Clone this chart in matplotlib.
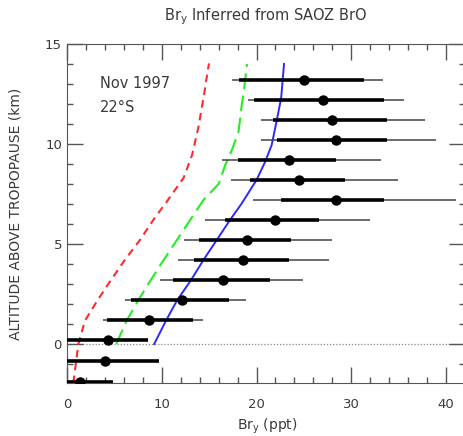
import numpy as np
import matplotlib
matplotlib.use("Agg")
import matplotlib.pyplot as plt
from matplotlib.ticker import MultipleLocator

# SAOZ inferred Bry profile (Nov 1997, 22S)
alt = [13.2, 12.2, 11.2, 10.2, 9.2, 8.2, 7.2, 6.2, 5.2, 4.2, 3.2, 2.2, 1.2, 0.2, -0.85, -1.88]
bry = [25.0, 27.0, 28.0, 28.4, 23.4, 24.5, 28.4, 21.9, 19.0, 18.6, 16.5, 12.1, 8.7, 4.35, 4.0, 1.4]
thick_lo = [18.2, 19.7, 21.7, 22.2, 18.0, 19.3, 22.6, 16.7, 13.9, 13.4, 11.2, 6.8, 4.2, 0.0, 0.0, 0.0]
thick_hi = [31.3, 33.4, 33.8, 33.8, 28.4, 29.3, 33.5, 26.6, 23.6, 23.4, 21.4, 17.1, 13.3, 8.5, 9.7, 4.9]
thin_lo = [17.4, 19.1, 20.5, 20.5, 16.4, 17.3, 19.6, 14.6, 12.3, 11.7, 9.8, 6.1, 3.8, 0.0, 0.0, 0.0]
thin_hi = [33.3, 35.6, 37.8, 38.9, 33.1, 34.9, 41.0, 32.0, 28.0, 27.7, 24.9, 18.9, 14.3, 8.5, 9.7, 4.9]

# model curves
red_alt = [-1.95, 0.0, 1.17, 2.17, 3.17, 4.2, 5.2, 6.2, 7.1, 8.3, 9.45, 10.8, 12.3, 14.03]
red_x = [0.67, 1.2, 1.9, 3.2, 4.6, 6.1, 7.7, 9.1, 10.5, 12.3, 13.2, 13.85, 14.4, 14.98]
green_alt = [0.0, 1.17, 2.17, 3.17, 4.2, 5.2, 6.2, 7.2, 8.0, 8.95, 9.7, 10.6, 11.8, 12.8, 14.0]
green_x = [5.2, 6.3, 7.5, 8.8, 10.2, 11.6, 13.0, 14.4, 16.0, 16.7, 17.4, 18.1, 18.4, 18.7, 19.0]
blue_alt = [0.0, 1.17, 2.17, 3.17, 4.2, 5.2, 6.2, 7.0, 8.2, 9.1, 9.95, 11.1, 12.3, 14.0]
blue_x = [9.2, 10.45, 11.6, 13.05, 14.4, 15.8, 17.2, 18.4, 20.0, 20.9, 21.6, 22.1, 22.6, 22.9]

TXT = "#3a3a3a"
plt.rcParams["font.family"] = "DejaVu Sans"

fig = plt.figure(figsize=(4.64, 4.36), dpi=100)
ax = fig.add_axes([67 / 464, 53 / 436, 398 / 464, 339 / 436])

ax.axhline(0, color="#888888", lw=0.9, ls=(0, (1, 1.5)), zorder=1)

ax.plot(red_x, red_alt, color="#ff2a2a", lw=1.5, dashes=(3.6, 2.6), zorder=2)
ax.plot(green_x, green_alt, color="#22ee22", lw=1.5, dashes=(7.5, 3.2), zorder=2)
ax.plot(blue_x, blue_alt, color="#2a2aff", lw=1.4, zorder=2)

ax.hlines(alt, thin_lo, thin_hi, color="#444444", lw=1.1, zorder=3)
ax.hlines(alt, thick_lo, thick_hi, color="black", lw=2.6, zorder=4)
ax.plot(bry, alt, "o", color="black", ms=6.5, zorder=5)

ax.text(3.5, 13.05, "Nov 1997", fontsize=10.5, color=TXT, va="center")
ax.text(3.5, 11.85, "22°S", fontsize=10.5, color=TXT, va="center")

ax.set_xlim(0, 42)
ax.set_ylim(-1.95, 15)
ax.xaxis.set_major_locator(MultipleLocator(10))
ax.xaxis.set_minor_locator(MultipleLocator(2))
ax.yaxis.set_major_locator(MultipleLocator(5))
ax.yaxis.set_minor_locator(MultipleLocator(1))
ax.tick_params(which="both", direction="in", top=True, right=True,
               colors="#555555", labelcolor=TXT, labelsize=9.5)
ax.tick_params(which="major", length=11.5, width=1.0)
ax.tick_params(which="minor", length=4.3, width=1.0)
ax.tick_params(axis="x", pad=11)
ax.tick_params(axis="y", pad=3.6)
for s in ax.spines.values():
    s.set_color("#555555")

ax.set_xlabel(r"Br$_\mathregular{y}$ (ppt)", fontsize=10, color=TXT, va="center")
ax.xaxis.set_label_coords(0.503, -0.127)
ax.set_ylabel("ALTITUDE ABOVE TROPOPAUSE (km)", fontsize=10, color=TXT, va="center")
ax.yaxis.set_label_coords(-0.13, 0.5)
fig.text(266 / 464, 1 - 17 / 436, r"Br$_\mathregular{y}$ Inferred from SAOZ BrO",
         fontsize=10.5, color=TXT, ha="center", va="center")

fig.savefig("out.png", dpi=100)
